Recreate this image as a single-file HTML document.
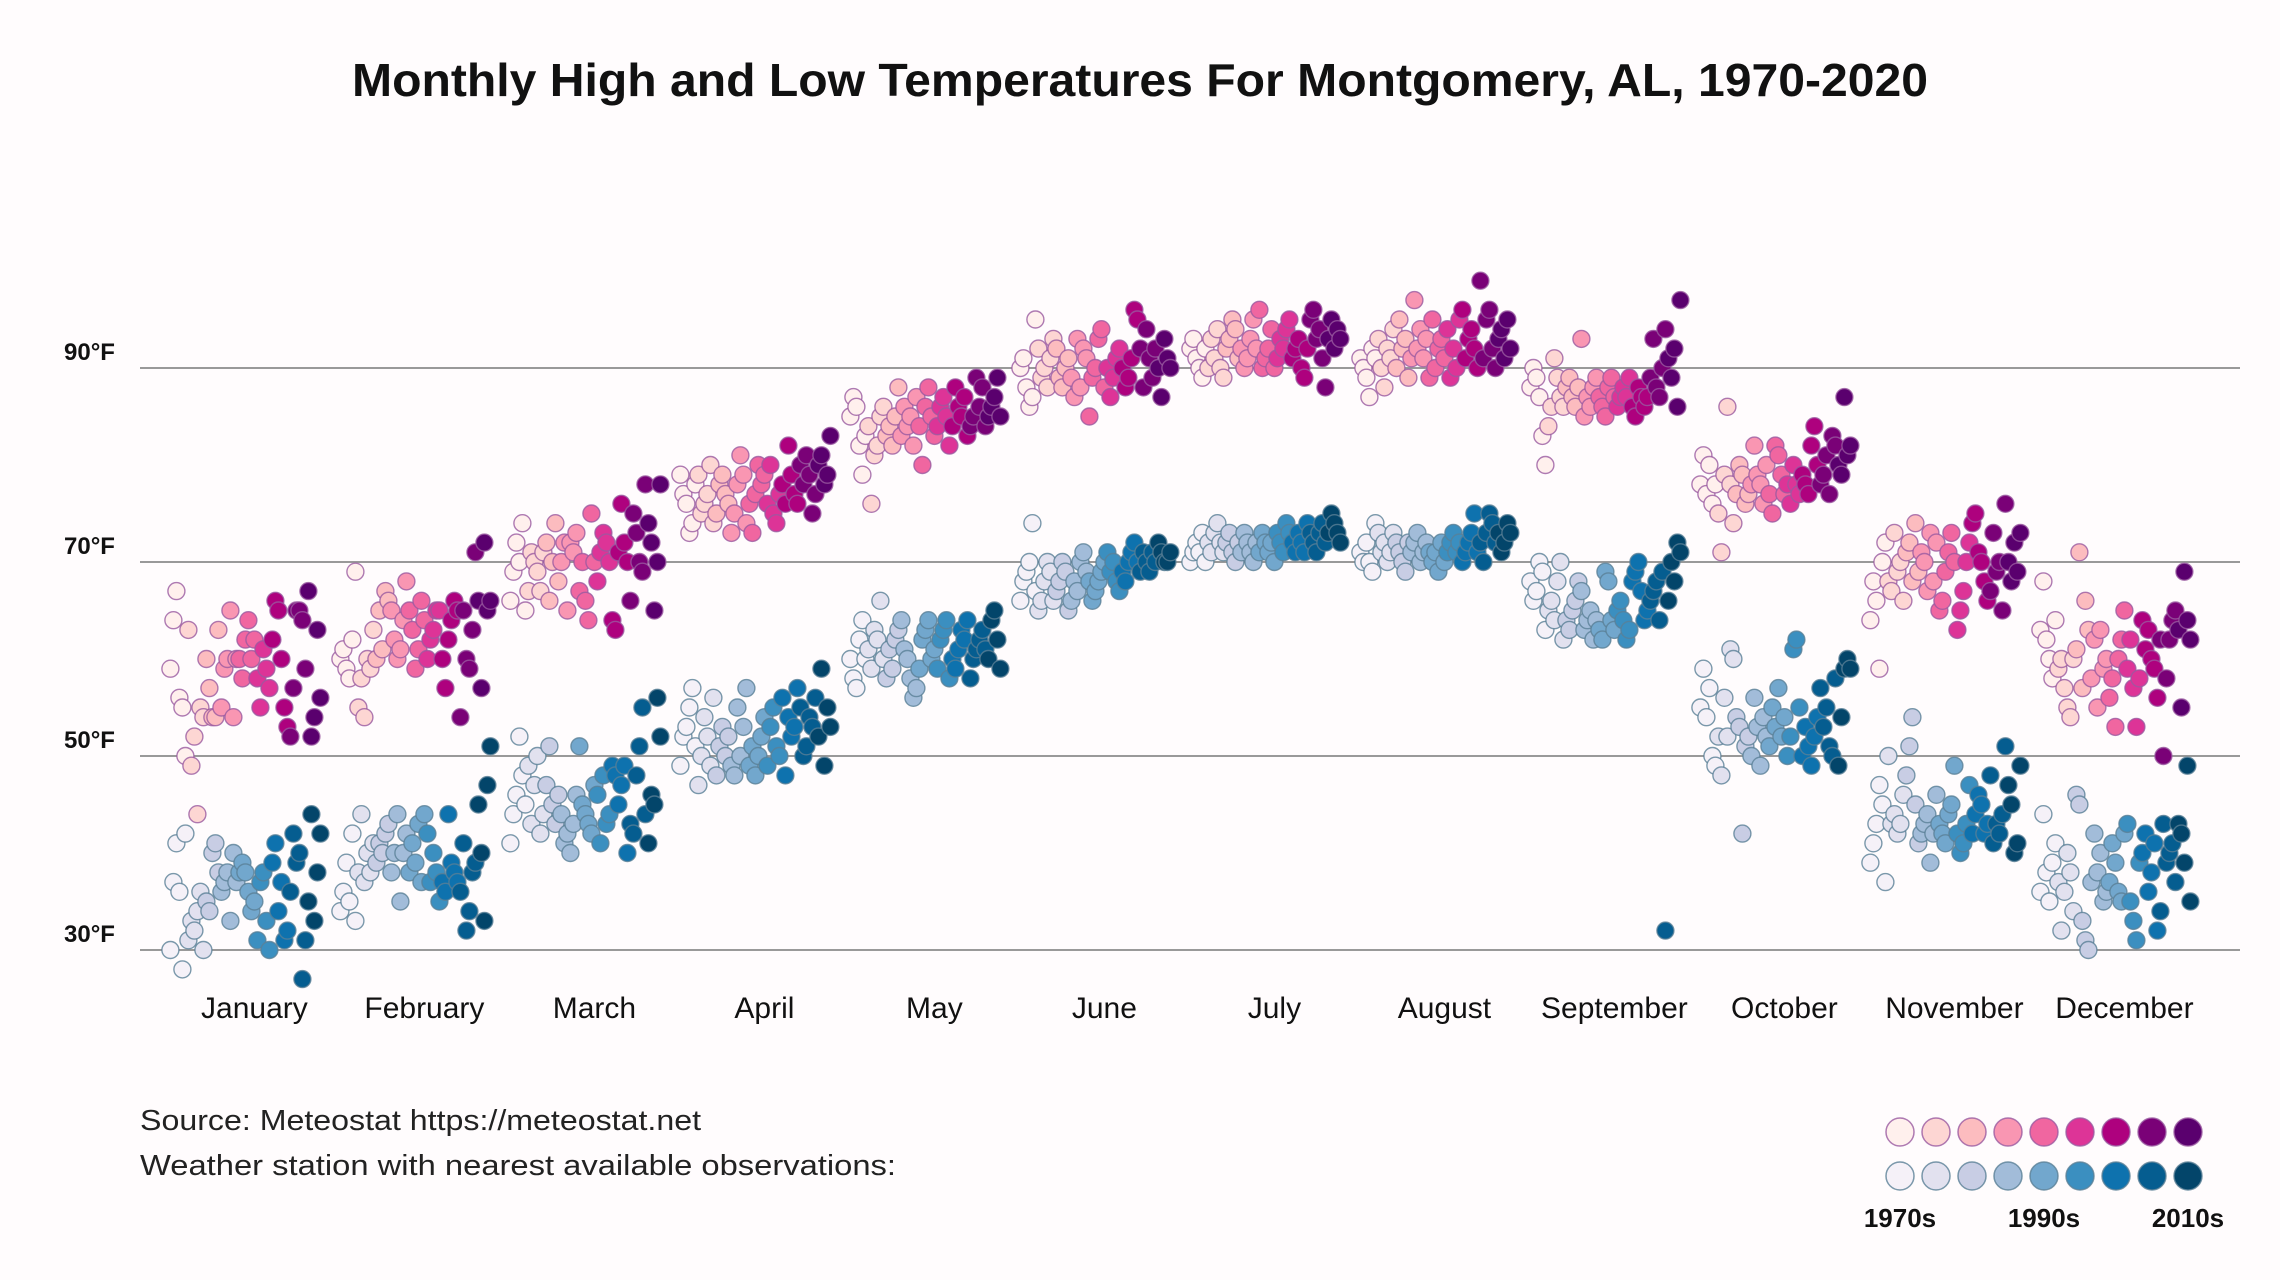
<!DOCTYPE html>
<html><head><meta charset="utf-8">
<style>
html,body{margin:0;padding:0;background:#fffcfd;}
svg{display:block;font-family:"Liberation Sans",sans-serif;}
</style></head>
<body>
<svg id="chart" width="2280" height="1280" viewBox="0 0 2280 1280" xmlns="http://www.w3.org/2000/svg">
<rect width="2280" height="1280" fill="#fffcfd"/>
<text x="1140" y="96" text-anchor="middle" font-size="46" font-weight="bold" fill="#111" textLength="1576" lengthAdjust="spacingAndGlyphs">Monthly High and Low Temperatures For Montgomery, AL, 1970-2020</text>
<g id="grid"></g>
<g id="dots"></g>
<g id="months"></g>
<text x="140" y="1130" font-size="29" fill="#222" textLength="561" lengthAdjust="spacingAndGlyphs">Source: Meteostat https://meteostat.net</text>
<text x="140" y="1175" font-size="29" fill="#222" textLength="756" lengthAdjust="spacingAndGlyphs">Weather station with nearest available observations:</text>
<g id="legend"></g>
</svg>
<script>
const months=["January","February","March","April","May","June","July","August","September","October","November","December"];
const yTicks=[30,50,70,90];
const decadeLabels=["1970s","1990s","2010s"];
const pinkColors=["#fff0ed","#fdd6d3","#fcbcbf","#f996b2","#f066a0","#dd3497","#ae017e","#7a0177","#5a006e"];
const blueColors=["#f5f1f8","#e2e1ef","#c8cde4","#a2bcd9","#72a7cd","#3b8fc0","#0e72ae","#055d90","#03456a"];
const highs=[
[59,64,67,56,55,50,63,49,52,44,55,54,60,57,54,54,63,55,59,60,65,54,60,60,58,62,64,60,62,58,55,61,59,57,62,66,65,60,55,53,52,57,65,65,64,59,67,52,54,63,56],
[60,61,59,58,62,69,55,58,54,60,59,63,60,65,61,67,66,65,62,60,61,64,68,65,63,59,61,66,64,60,62,63,65,65,60,57,62,64,66,65,54,65,60,59,63,71,66,57,72,65,66],
[66,69,72,70,74,65,67,71,70,69,67,71,72,66,70,74,68,70,72,65,72,71,73,67,70,66,64,75,70,68,71,73,72,70,64,63,71,76,72,70,66,75,73,70,69,78,74,72,65,70,78],
[79,77,76,73,74,78,79,75,76,77,80,74,75,78,79,77,76,73,75,78,81,79,74,76,73,77,80,78,79,76,80,75,74,77,78,76,82,79,77,76,80,78,81,79,75,77,80,81,78,79,83],
[85,87,86,82,79,83,84,76,81,82,85,86,83,84,82,85,88,83,86,84,85,82,87,84,80,86,88,85,83,84,86,87,85,82,84,88,86,85,87,83,84,85,89,86,88,84,85,86,87,89,85],
[90,91,88,86,87,95,92,89,90,88,91,93,92,89,88,90,91,89,87,93,88,92,91,85,89,90,93,94,88,90,87,89,91,92,90,88,89,91,96,95,92,88,94,91,89,92,90,87,93,91,90],
[92,93,91,90,89,92,90,93,91,94,90,89,92,93,95,94,91,92,90,91,93,95,92,96,90,91,92,94,90,91,93,92,94,95,91,92,93,90,89,92,95,96,93,94,91,88,93,95,92,94,93],
[91,90,89,87,92,91,93,90,88,92,91,94,90,95,92,93,89,91,97,92,94,91,93,89,95,90,92,93,91,94,89,92,90,95,96,91,93,94,92,90,99,91,95,96,92,90,93,94,91,95,92],
[88,90,89,87,83,80,84,86,91,89,87,86,88,89,87,86,88,93,85,87,86,88,89,87,86,85,88,89,87,86,87,88,87,89,86,85,88,87,86,87,89,93,88,87,90,94,91,89,92,86,97],
[78,81,77,80,76,78,75,71,79,86,78,74,77,80,79,76,77,78,82,79,78,76,80,77,75,82,81,79,77,78,76,80,78,77,79,78,77,82,84,80,78,79,81,77,83,82,80,79,87,81,82],
[64,68,66,59,70,72,68,67,73,69,70,66,71,72,68,74,69,71,70,67,73,68,72,65,66,69,71,73,70,63,65,67,70,72,74,75,71,70,68,66,67,73,69,70,65,76,70,68,72,69,73],
[63,68,62,60,58,64,59,60,57,55,54,60,61,71,57,66,63,58,62,55,63,59,60,56,58,53,60,62,65,59,62,57,53,58,64,61,63,60,59,56,62,50,58,62,64,65,63,55,69,64,62]
];
const lows=[
[30,37,41,36,28,42,31,33,32,34,36,30,35,34,40,41,38,36,37,38,33,40,37,38,39,38,36,34,35,31,37,38,33,30,39,41,34,37,31,32,36,42,39,40,27,31,35,44,33,38,42],
[34,36,39,35,42,33,38,44,37,40,38,41,39,41,40,42,43,38,40,44,35,40,42,38,41,39,43,37,44,42,37,40,38,35,37,36,44,39,38,37,36,41,32,34,38,39,45,40,33,47,51],
[41,44,46,52,48,45,49,43,47,50,42,44,47,51,45,43,46,44,41,42,40,43,46,51,45,44,43,42,47,46,41,48,43,44,49,48,45,47,49,40,43,42,48,51,55,44,41,46,45,56,52],
[49,52,53,55,57,51,47,50,54,52,49,56,48,51,53,50,52,49,48,55,50,53,57,49,51,48,50,52,54,49,53,55,51,50,56,48,54,52,53,57,55,50,51,54,53,56,52,59,49,55,53],
[60,58,57,62,64,60,61,59,63,62,66,60,58,61,59,62,63,64,61,60,58,56,57,59,62,63,64,60,61,59,62,63,64,58,60,59,61,63,62,64,58,60,61,62,63,61,60,64,65,62,59],
[66,68,69,70,74,67,65,66,68,70,69,66,67,68,70,69,65,66,68,67,70,71,69,68,66,67,68,69,70,71,69,70,68,67,69,68,70,71,72,70,69,71,70,69,71,70,72,71,70,70,71],
[70,71,72,71,73,70,72,71,73,74,72,71,72,73,71,70,72,71,73,72,71,70,72,71,73,72,71,72,70,73,72,71,74,73,72,71,73,72,71,74,73,72,71,73,74,72,73,75,74,73,72],
[71,70,72,70,69,74,73,71,72,70,71,73,72,71,70,69,72,71,72,73,70,71,72,71,70,71,69,72,70,71,72,73,71,72,70,71,72,73,75,71,72,70,73,75,74,72,73,71,72,74,73],
[68,66,67,70,69,63,65,66,64,68,70,62,64,63,65,66,68,67,63,64,65,62,64,63,62,69,68,64,63,65,66,64,62,63,68,69,70,67,64,65,66,67,68,64,69,32,66,70,68,72,71],
[55,59,54,57,50,49,52,48,56,52,61,60,54,53,42,51,52,50,56,53,49,54,52,51,55,53,57,52,54,50,52,61,62,55,50,53,51,49,52,54,57,53,55,51,50,58,49,54,59,60,59],
[39,41,43,47,45,37,50,43,44,42,43,46,48,51,54,45,41,42,43,44,39,42,46,43,42,41,44,45,49,42,40,41,43,47,42,44,46,45,42,43,48,41,43,42,44,51,47,45,40,41,49],
[36,44,38,35,39,41,37,32,36,40,38,34,46,45,33,31,30,37,42,38,40,35,36,37,41,39,36,35,42,43,35,33,31,39,40,42,36,38,41,32,34,43,39,40,41,37,43,42,39,49,35]
];
const NS="http://www.w3.org/2000/svg";
function yScale(t){return 950-(t-30)*9.7;}
function monthCenter(m){return 254.4+m*170;}
function xScale(m,i,n){return monthCenter(m)-84+i*(150/Math.max(1,n-1));}
function colorIdx(i,n){return Math.min(8,Math.floor(i*9/n));}
function mk(tag,attrs,parent){const e=document.createElementNS(NS,tag);for(const k in attrs)e.setAttribute(k,attrs[k]);parent.appendChild(e);return e;}
const grid=document.getElementById('grid');
yTicks.forEach(t=>{
  const l=mk('line',{x1:140,x2:2240,y1:yScale(t),y2:yScale(t),stroke:'#999','stroke-width':2},grid);
  
  
  const tx=mk('text',{x:64,y:yScale(t)-8,'font-size':24,'font-weight':'bold',fill:'#111'},grid);
  tx.textContent=t+'°F';
  
  
});
const mg=document.getElementById('months');
months.forEach((m,i)=>{
  const tx=mk('text',{x:monthCenter(i),y:1018,'font-size':30,'text-anchor':'middle',fill:'#111'},mg);
  tx.textContent=m;
  
  
});
const dg=document.getElementById('dots');
for(let m=0;m<12;m++){
  const h=highs[m],lo=lows[m];
  h.forEach((v,i)=>{
    const c=mk('circle',{cx:xScale(m,i,h.length),cy:yScale(v),r:8.5,fill:pinkColors[colorIdx(i,h.length)],stroke:'#9a5aa0','stroke-width':1.4,'stroke-opacity':0.8},dg);
    
    
  });
  lo.forEach((v,i)=>{
    const c=mk('circle',{cx:xScale(m,i,lo.length),cy:yScale(v),r:8.5,fill:blueColors[colorIdx(i,lo.length)],stroke:'#5a7f96','stroke-width':1.4,'stroke-opacity':0.8},dg);
    
    
  });
}
const lg=document.getElementById('legend');
for(let k=0;k<9;k++){
  const x=1900+k*36;
  const a=mk('circle',{cx:x,cy:1132,r:14,fill:pinkColors[k],stroke:'#9a5aa0','stroke-width':1.5,'stroke-opacity':0.8},lg);
  
  
  const b=mk('circle',{cx:x,cy:1176,r:14,fill:blueColors[k],stroke:'#5a7f96','stroke-width':1.5,'stroke-opacity':0.8},lg);
  
  
}
decadeLabels.forEach((d,i)=>{
  const tx=mk('text',{x:1900+i*4*36,y:1227,'font-size':26,'font-weight':'bold','text-anchor':'middle',fill:'#111'},lg);
  tx.textContent=d;
  
  
});
</script>
</body></html>
